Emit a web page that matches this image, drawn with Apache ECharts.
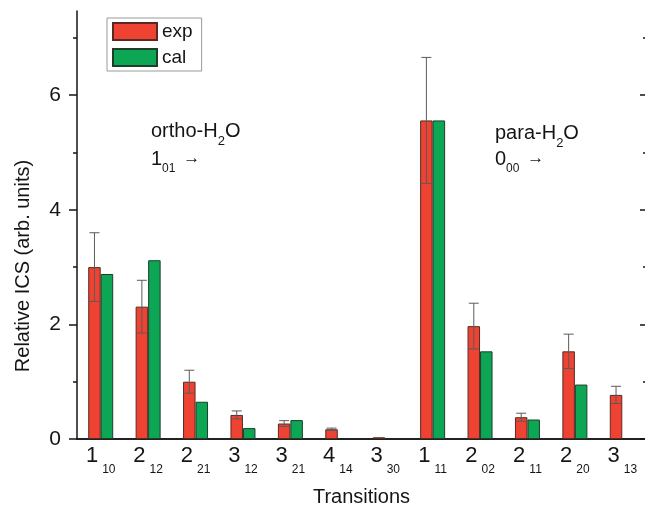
<!DOCTYPE html>
<html><head><meta charset="utf-8">
<script src="https://cdn.jsdelivr.net/npm/echarts@6/dist/echarts.min.js"></script>
<style>html,body{margin:0;padding:0;background:#fff}#c{width:645px;height:505px}</style>
</head><body><div id="c"></div>
<script>
// ---- data ----
const categories = ['1_10','2_12','2_21','3_12','3_21','4_14','3_30','1_11','2_02','2_11','2_20','3_13'];
const expValues  = [3.00, 2.31, 1.00, 0.42, 0.27, 0.17, 0.03, 5.56, 1.97, 0.38, 1.53, 0.77];
const expErrors  = [0.60, 0.46, 0.20, 0.07, 0.05, 0.02, 0,    1.10, 0.40, 0.07, 0.30, 0.15];
const calValues  = [2.88, 3.12, 0.65, 0.19, 0.33, null, null, 5.56, 1.53, 0.34, 0.95, null];
const yMajorTicks = [0, 2, 4, 6];
const yMinorTicks = [1, 3, 5, 7];
const yMax = 7.47;

const FONT = "'Liberation Sans', Arial, sans-serif";
const INK = '#151515';
const errData = expValues.map((v, i) => [i, v + expErrors[i], v - expErrors[i]]).filter((d, i) => expErrors[i] > 0);

const chart = echarts.init(document.getElementById('c'), null, {renderer: 'canvas'});
const yBase = {type: 'value', min: 0, max: yMax, splitLine: {show: false}};

function annot(left, top, main, sub, rest, subFont, subPad, arrow) {
  const rich = {
    n: {fontSize: 20, lineHeight: 20, fontFamily: FONT, fill: INK, verticalAlign: 'top'},
    s: {fontSize: subFont, lineHeight: subFont, fontFamily: FONT, fill: INK, verticalAlign: 'top', padding: [subPad, 0, 0, 0]},
    a: {fontSize: 17, lineHeight: 17, fontFamily: FONT, fill: INK, verticalAlign: 'top', padding: [1, 0, 0, 3]}
  };
  let t = '{n|' + main + '}{s|' + sub + '}';
  if (rest) t += '{n|' + rest + '}';
  if (arrow) t += '{a| →}';
  return {type: 'text', left: left, top: top, style: {text: t, rich: rich}};
}

chart.setOption({
  animation: false,
  backgroundColor: '#fff',
  textStyle: {fontFamily: FONT},
  grid: {left: 77, right: -1, top: 11, bottom: 66, outerBoundsMode: 'none', containLabel: false},
  legend: {
    orient: 'vertical', left: 107, top: 18, icon: 'rect',
    itemWidth: 44, itemHeight: 17, itemGap: 7, itemTextGap: 6,
    padding: [4, 9, 4, 5],
    borderColor: '#9a9a9a', borderWidth: 1,
    textStyle: {fontSize: 19, color: INK, fontFamily: FONT},
    data: ['exp', 'cal']
  },
  xAxis: [
    {
      type: 'category', data: categories, position: 'bottom',
      axisLine: {lineStyle: {color: INK, width: 1.5}},
      axisTick: {show: false},
      axisLabel: {
        margin: 6, interval: 0,
        formatter: (v) => { const p = v.split('_'); return '{m|' + p[0] + '}{s|' + p[1] + '}'; },
        rich: {
          m: {fontSize: 22, lineHeight: 22, fontFamily: FONT, color: INK, verticalAlign: 'top'},
          s: {fontSize: 12, lineHeight: 12, fontFamily: FONT, color: INK, verticalAlign: 'top', padding: [19, 0, 0, 4]}
        }
      },
      name: 'Transitions', nameLocation: 'middle', nameGap: 48,
      nameTextStyle: {fontSize: 20, color: INK, fontFamily: FONT}
    },
    {
      type: 'category', data: categories, position: 'top',
      axisLine: {lineStyle: {color: INK, width: 1.5}},
      axisTick: {show: false}, axisLabel: {show: false}
    }
  ],
  yAxis: [
    Object.assign({}, yBase, {
      position: 'left',
      axisLine: {show: true, lineStyle: {color: INK, width: 1.5}},
      axisTick: {show: true, customValues: yMajorTicks, length: 8, lineStyle: {color: INK, width: 1.5}},
      axisLabel: {customValues: yMajorTicks, fontSize: 21, color: INK, margin: 16, fontFamily: FONT}
    }),
    Object.assign({}, yBase, {
      position: 'left',
      axisLine: {show: false},
      axisTick: {show: true, customValues: yMinorTicks, length: 4, lineStyle: {color: INK, width: 1.5}},
      axisLabel: {show: false}
    }),
    Object.assign({}, yBase, {
      position: 'right',
      axisLine: {show: false},
      axisTick: {show: true, inside: true, customValues: yMajorTicks, length: 6, lineStyle: {color: INK, width: 1.5}},
      axisLabel: {show: false}
    }),
    Object.assign({}, yBase, {
      position: 'right',
      axisLine: {show: false},
      axisTick: {show: true, inside: true, customValues: yMinorTicks, length: 3, lineStyle: {color: INK, width: 1.5}},
      axisLabel: {show: false}
    })
  ],
  series: [
    {
      name: 'exp', type: 'bar', data: expValues, barWidth: 12.5, barGap: '0%',
      itemStyle: {color: '#EE4332', borderColor: '#5a2a22', borderWidth: 1}
    },
    {
      name: 'cal', type: 'bar', data: calValues, barWidth: 12.5, barGap: '0%',
      itemStyle: {color: '#0DA655', borderColor: '#1f3d28', borderWidth: 1}
    },
    {
      name: 'err', type: 'custom', data: errData, z: 5,
      encode: {x: 0, y: [1, 2]},
      renderItem: function (params, api) {
        const idx = api.value(0);
        const hi = api.coord([idx, api.value(1)]);
        const lo = api.coord([idx, api.value(2)]);
        const x = hi[0] - 6.25;
        const cap = 5;
        const st = {stroke: '#5b5b5b', lineWidth: 1};
        return {type: 'group', children: [
          {type: 'line', shape: {x1: x, y1: hi[1], x2: x, y2: lo[1]}, style: st},
          {type: 'line', shape: {x1: x - cap, y1: hi[1], x2: x + cap, y2: hi[1]}, style: st},
          {type: 'line', shape: {x1: x - cap, y1: lo[1], x2: x + cap, y2: lo[1]}, style: st}
        ]};
      }
    }
  ],
  graphic: [
    {type: 'text', x: 23, y: 266, rotation: Math.PI / 2,
      style: {text: 'Relative ICS (arb. units)', fill: INK, font: '20px ' + FONT, align: 'center', verticalAlign: 'middle'}},
    annot(151, 121, 'ortho-H', '2', 'O', 13, 14, false),
    annot(151, 149, '1', '01', '', 12, 14, true),
    annot(495, 123, 'para-H', '2', 'O', 13, 14, false),
    annot(495, 149, '0', '00', '', 12, 14, true)
  ]
});
</script>
</body></html>
